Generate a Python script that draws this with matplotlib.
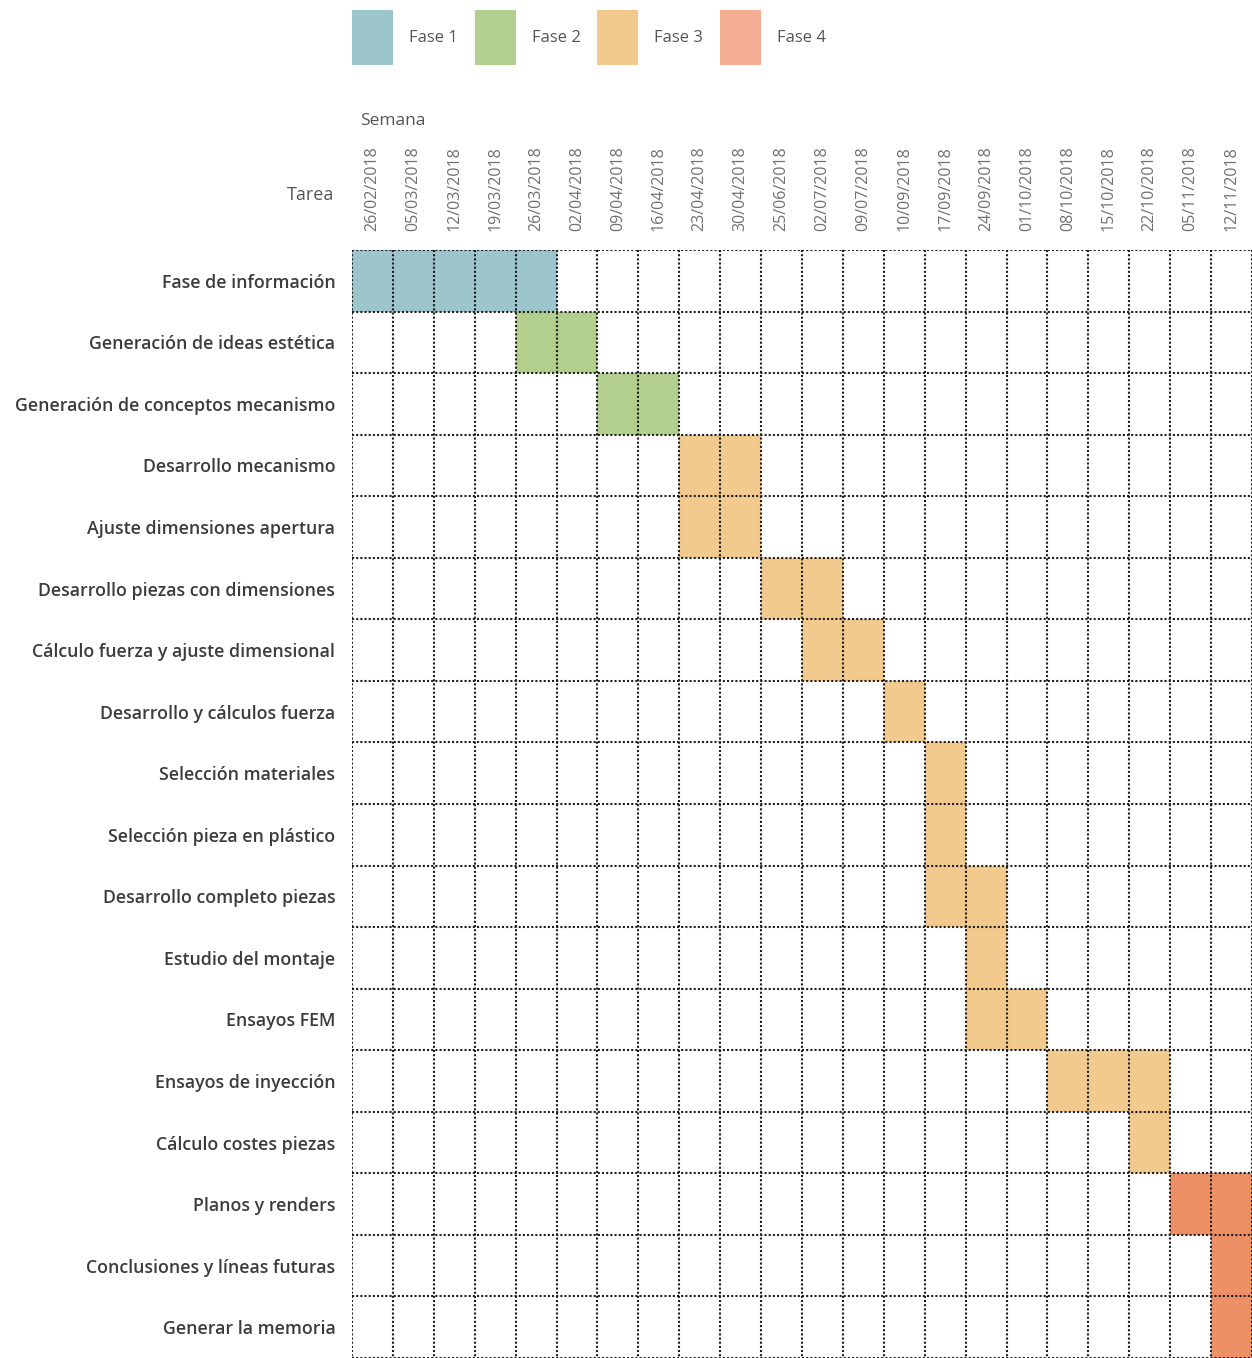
import matplotlib.pyplot as plt
from matplotlib.patches import Rectangle

weeks = ["26/02/2018", "05/03/2018", "12/03/2018", "19/03/2018", "26/03/2018",
         "02/04/2018", "09/04/2018", "16/04/2018", "23/04/2018", "30/04/2018",
         "25/06/2018", "02/07/2018", "09/07/2018", "10/09/2018", "17/09/2018",
         "24/09/2018", "01/10/2018", "08/10/2018", "15/10/2018", "22/10/2018",
         "05/11/2018", "12/11/2018"]
tasks = ["Fase de información", "Generación de ideas estética",
         "Generación de conceptos mecanismo", "Desarrollo mecanismo",
         "Ajuste dimensiones apertura", "Desarrollo piezas con dimensiones",
         "Cálculo fuerza y ajuste dimensional", "Desarrollo y cálculos fuerza",
         "Selección materiales", "Selección pieza en plástico",
         "Desarrollo completo piezas", "Estudio del montaje", "Ensayos FEM",
         "Ensayos de inyección", "Cálculo costes piezas", "Planos y renders",
         "Conclusiones y líneas futuras", "Generar la memoria"]
# first week index and number of weeks for each task
start = [0, 4, 6, 8, 8, 10, 11, 13, 14, 14, 14, 15, 15, 17, 19, 20, 21, 21]
length = [5, 2, 2, 2, 2, 2, 2, 1, 1, 1, 2, 1, 2, 3, 1, 2, 1, 1]
phase = [1, 2, 2, 3, 3, 3, 3, 3, 3, 3, 3, 3, 3, 3, 3, 4, 4, 4]

phases = ["Fase 1", "Fase 2", "Fase 3", "Fase 4"]
cell_colors = {1: "#9dc5cc", 2: "#b3cf8e", 3: "#f2ca8e", 4: "#ee9066"}
legend_colors = ["#9dc5cc", "#b3cf8e", "#f2ca8e", "#f3ae94"]

plt.rcParams['font.family'] = ['Open Sans', 'DejaVu Sans']

W, H = 1252, 1358
fig = plt.figure(figsize=(W / 100, H / 100), dpi=100)
left, top = 352, 250
ax = fig.add_axes([left / W, 0, 1 - left / W, 1 - top / H])

n = len(weeks)
m = len(tasks)
for i in range(m):
    ax.barh(i, length[i], left=start[i], height=1.0, align='edge',
            color=cell_colors[phase[i]], linewidth=0, zorder=1)

ax.set_xlim(0, n)
ax.set_ylim(m, 0)

grid_kw = dict(colors="#1e1e1e", linestyles=(0, (1, 1)), linewidth=1.5, zorder=2)
ax.vlines(range(n + 1), 0, m, **grid_kw)
ax.hlines(range(m + 1), 0, n, **grid_kw)

for s in ax.spines.values():
    s.set_visible(False)

ax.set_yticks([i + 0.5 for i in range(m)])
ax.set_yticklabels(tasks, fontsize=12.8, fontweight='semibold', color="#3c3c3c")
ax.tick_params(axis='y', length=0, pad=12)

ax.xaxis.tick_top()
ax.set_xticks([j + 0.5 for j in range(n)])
ax.set_xticklabels(weeks, rotation=90, fontsize=11.5, color="#707070")
ax.tick_params(axis='x', length=0, pad=14)

fig.text(360 / W, 1 - 121 / H, "Semana", fontsize=12.5, color="#555555",
         va='center', ha='left')
fig.text(334 / W, 1 - 195 / H, "Tarea", fontsize=13, color="#555555",
         va='center', ha='right')

# legend
col_w = (W - left) / n
for k, name in enumerate(phases):
    x0 = left + 3 * k * col_w
    fig.patches.append(Rectangle((x0 / W, 1 - 65 / H), col_w / W, 55 / H,
                                 transform=fig.transFigure,
                                 color=legend_colors[k], linewidth=0))
    fig.text((x0 + col_w + 16) / W, 1 - 38 / H, name, fontsize=12,
             color="#555555", va='center', ha='left')

fig.savefig("out.png", dpi=100)
